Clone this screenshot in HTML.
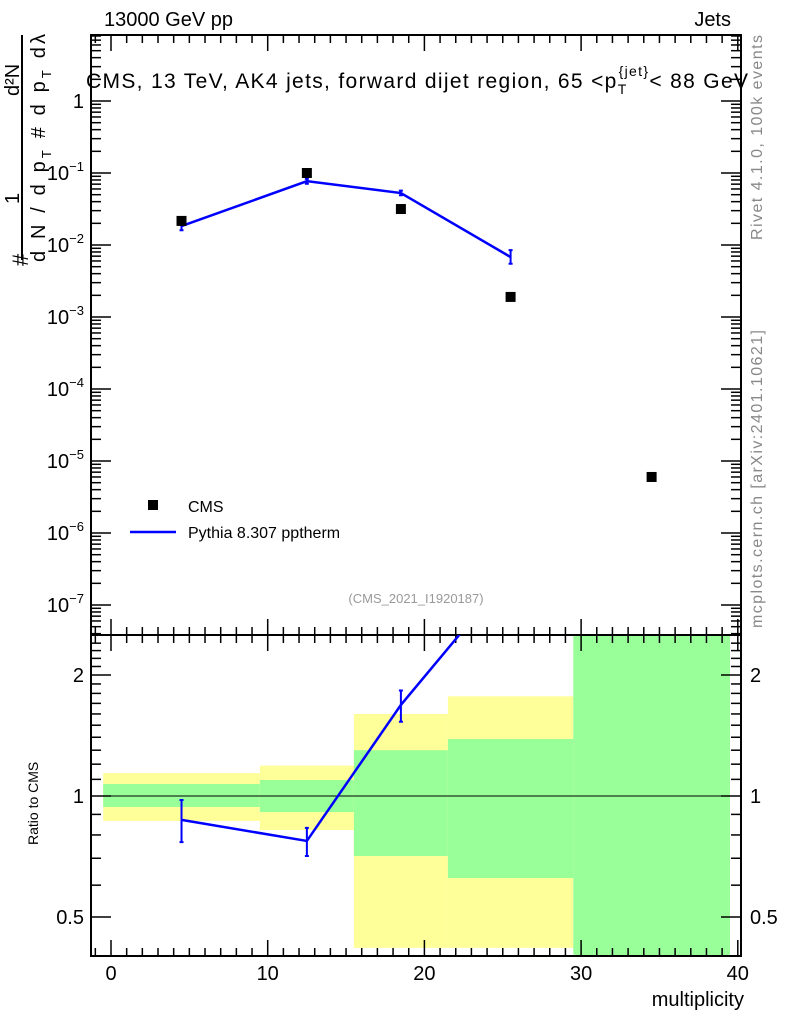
<!DOCTYPE html>
<html><head><meta charset="utf-8"><style>
body{margin:0;background:#fff;font-family:"Liberation Sans",sans-serif}
svg text{font-family:"Liberation Sans",sans-serif}
</style></head><body>
<svg id="c" width="786" height="1024" xmlns="http://www.w3.org/2000/svg">
<g id="bands"></g>
<g id="axes"></g>
<g id="marks"></g>
<text x="104" y="26" font-size="20">13000 GeV pp</text>
<text x="731" y="26" font-size="20" text-anchor="end">Jets</text>
<text x="86" y="88" font-size="21" textLength="662" lengthAdjust="spacing">CMS, 13 TeV, AK4 jets, forward dijet region, 65 &lt;p<tspan font-size="14" dy="6">T</tspan><tspan font-size="14" dy="-18" dx="-9">{jet}</tspan><tspan dy="12">&lt; 88 GeV</tspan></text>
<text x="416" y="603" font-size="13" fill="#999" text-anchor="middle">(CMS_2021_I1920187)</text>
<text transform="translate(762,240) rotate(-90)" font-size="16" fill="#888" textLength="205" lengthAdjust="spacing">Rivet 4.1.0,  100k events</text>
<text transform="translate(762,628) rotate(-90)" font-size="16" fill="#888" textLength="298" lengthAdjust="spacing">mcplots.cern.ch [arXiv:2401.10621]</text>
<text x="744" y="1006" font-size="20" text-anchor="end">multiplicity</text>
<text transform="translate(38,845) rotate(-90)" font-size="14">Ratio to CMS</text>
<g font-size="20">
<line x1="22" y1="260" x2="22" y2="35" stroke="#000" stroke-width="2"/>
<text transform="translate(28,266) rotate(-90)" font-size="22">#</text>
<text transform="translate(19,204) rotate(-90)">1</text>
<text transform="translate(19,96) rotate(-90)">d²N</text>
<text transform="translate(45,262) rotate(-90)" textLength="228" lengthAdjust="spacing">d N / d p<tspan font-size="13" dy="6">T</tspan><tspan dy="-6"> # d p</tspan><tspan font-size="13" dy="6">T</tspan><tspan dy="-6">  dλ</tspan></text>
</g>
</svg>
<script>
const categories=[4.5,12.5,18.5,25.5,34.5];
const cmsValues=[0.0216,0.1,0.0316,0.0019,6e-6];
const mcX=[4.5,12.5,18.5,25.5];
const mcValues=[0.0183,0.077,0.0527,0.0068];
const mcErrLo=[0.0160,0.071,0.049,0.0055];
const mcErrHi=[0.0205,0.083,0.057,0.0085];
const ratioValues=[0.872,0.773,1.685,3.58];
const ratioLo=[0.768,0.709,1.53,3.3];
const ratioHi=[0.977,0.833,1.83,3.9];
const binEdges=[-0.5,9.5,15.5,21.5,29.5,39.5];
const yellowHi=[1.14,1.19,1.6,1.77,1.77];
const yellowLo=[0.867,0.823,0.419,0.419,0.419];
const greenHi=[1.071,1.096,1.30,1.386,3];
const greenLo=[0.939,0.912,0.709,0.625,0.3];
const xTicks=[0,10,20,30,40];
const yDecades=[0,-1,-2,-3,-4,-5,-6,-7];
const rTicks=[0.5,1,2];

const NS="http://www.w3.org/2000/svg";
const L=91,R=741,T=35,MB=635,B=956;
const X=v=>111+v*15.67;
const Y=v=>101-72*Math.log10(v);
const RY=v=>796-121*Math.log2(v);
function mk(parent,tag,a){const e=document.createElementNS(NS,tag);for(const k in a)e.setAttribute(k,a[k]);document.getElementById(parent).appendChild(e);return e;}
for(let i=0;i<binEdges.length-1;i++){
  const x1=X(binEdges[i]),x2=X(binEdges[i+1]);
  if(i<4){const y=mk('bands','rect',{x:x1,y:Math.max(MB,RY(yellowHi[i])),width:x2-x1,height:Math.min(B,RY(yellowLo[i]))-Math.max(MB,RY(yellowHi[i])),fill:'#ffff99'});
  
  }
  const yt=Math.max(MB,RY(greenHi[i])),yb=Math.min(B,RY(greenLo[i]));
  const g=mk('bands','rect',{x:x1,y:yt,width:x2-x1,height:yb-yt,fill:'#99ff99'});
  
  
}
const f1=mk('axes','rect',{x:L,y:T,width:R-L,height:MB-T,fill:'none',stroke:'#000','stroke-width':2});


const f2=mk('axes','rect',{x:L,y:MB,width:R-L,height:B-MB,fill:'none',stroke:'#000','stroke-width':2});


const one=mk('axes','line',{x1:L,x2:R,y1:RY(1),y2:RY(1),stroke:'#000','stroke-width':1});


for(let v=-1;v<=40;v++){const x=X(v);const big=v%10===0;const len=big?16:8;
 [[T,1],[MB,-1],[MB,1],[B,-1]].forEach(([y0,d])=>mk('axes','line',{x1:x,x2:x,y1:y0,y2:y0+d*len,stroke:'#000','stroke-width':1.5}));}
xTicks.forEach(v=>{const t=mk('axes','text',{x:X(v),y:980,'font-size':20,'text-anchor':'middle'});t.textContent=v;
 
 });
for(let d=-8;d<=1;d++)for(let m=1;m<10;m++){const y=Y(m*Math.pow(10,d));if(y<T||y>MB)continue;const len=m===1?20:10;
 mk('axes','line',{x1:L,x2:L+len,y1:y,y2:y,stroke:'#000','stroke-width':1.5});mk('axes','line',{x1:R,x2:R-len,y1:y,y2:y,stroke:'#000','stroke-width':1.5});}
yDecades.forEach(d=>{const t=mk('axes','text',{x:84,y:Y(Math.pow(10,d))+7,'font-size':20,'text-anchor':'end'});
 if(d===0)t.textContent='1';else{t.innerHTML='10<tspan font-size="13" dy="-9">'+(d===-1?'−1':'−'+(-d))+'</tspan>';}
 
 });
for(let v=0.4;v<=2.5;v+=0.1){const y=RY(v);if(y<MB||y>B)continue;const big=[0.5,1,2].some(q=>Math.abs(q-v)<1e-6);const len=big?20:10;
 mk('axes','line',{x1:L,x2:L+len,y1:y,y2:y,stroke:'#000','stroke-width':1.5});mk('axes','line',{x1:R,x2:R-len,y1:y,y2:y,stroke:'#000','stroke-width':1.5});}
rTicks.forEach(v=>{[[84,'end'],[750,'start']].forEach(([x,a])=>{const t=mk('axes','text',{x:x,y:RY(v)+7,'font-size':20,'text-anchor':a});t.textContent=v;
 
 });});
const mp=mk('marks','polyline',{points:mcX.map((x,i)=>X(x)+','+Y(mcValues[i])).join(' '),fill:'none',stroke:'#0000ff','stroke-width':2.5});


mcX.forEach((x,i)=>{const e=mk('marks','path',{d:`M${X(x)},${Y(mcErrLo[i])}V${Y(mcErrHi[i])}M${X(x)-2},${Y(mcErrLo[i])}h4M${X(x)-2},${Y(mcErrHi[i])}h4`,stroke:'#0000ff','stroke-width':2,fill:'none'});
 
 });
categories.forEach((x,i)=>{const r=mk('marks','rect',{x:X(x)-5,y:Y(cmsValues[i])-5,width:10,height:10,fill:'#000'});
 
 });
const cp=mk('marks','clipPath',{id:'rc'});const cr=document.createElementNS(NS,'rect');cr.setAttribute('x',L);cr.setAttribute('y',MB);cr.setAttribute('width',R-L);cr.setAttribute('height',B-MB);cp.appendChild(cr);
const rp=mk('marks','polyline',{points:mcX.map((x,i)=>X(x)+','+RY(ratioValues[i])).join(' '),fill:'none',stroke:'#0000ff','stroke-width':2.5,'clip-path':'url(#rc)'});


mcX.forEach((x,i)=>{if(RY(ratioHi[i])<MB)return;const e=mk('marks','path',{d:`M${X(x)},${RY(ratioLo[i])}V${RY(ratioHi[i])}M${X(x)-2},${RY(ratioLo[i])}h4M${X(x)-2},${RY(ratioHi[i])}h4`,stroke:'#0000ff','stroke-width':2,fill:'none'});
 
 });
const lg=mk('marks','rect',{x:148,y:500,width:10,height:10,fill:'#000'});


const lt=mk('marks','text',{x:188,y:512,'font-size':16});lt.textContent='CMS';


const ll=mk('marks','line',{x1:130,x2:176,y1:532,y2:532,stroke:'#0000ff','stroke-width':2.5});


const lt2=mk('marks','text',{x:188,y:538,'font-size':16});lt2.textContent='Pythia 8.307 pptherm';


</script>
</body></html>
